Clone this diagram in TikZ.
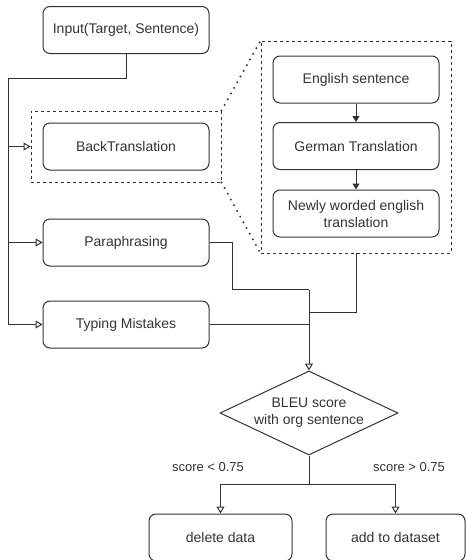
\documentclass[tikz,border=0pt]{standalone}
\usepackage{fontspec}
\setmainfont{Liberation Sans}
\usetikzlibrary{arrows.meta,shapes.geometric}
\definecolor{trazo}{HTML}{333333}
\definecolor{letra}{HTML}{333333}
\begin{document}
\begin{tikzpicture}[x=1pt,y=-1pt,
  caja/.style={draw=trazo, line width=1pt, rounded corners=7pt, minimum width=166pt, minimum height=47pt, text=letra, font=\fontsize{14}{17}\selectfont, align=center, inner sep=2pt},
  marco/.style={draw=trazo, line width=0.9pt, dash pattern=on 3pt off 3pt, minimum width=190pt, inner sep=0pt},
  linea/.style={draw=trazo, line width=1pt},
  flecha/.style={linea, -{Triangle[open, length=7pt, width=8pt]}},
  flechanegra/.style={linea, -{Triangle[length=6pt, width=7pt]}},
  puntos/.style={draw=trazo, line width=2.2pt, dash pattern=on 0pt off 6.5pt, line cap=round},
  etiqueta/.style={text=letra, font=\fontsize{13}{15}\selectfont}]
\useasboundingbox (0,0) rectangle (466,560);
% Marcos discontinuos
\node[marco, minimum height=71pt] (sbox) at (126,146.5) {}; % alrededor de BackTranslation
\node[marco, minimum height=212pt] (bbox) at (356,147) {}; % detalle de la traduccion
% Cajas de la izquierda
\node[caja] (inp) at (126,30) {Input(Target, Sentence)};
\node[caja] (bt) at (126,146.5) {BackTranslation};
\node[caja] (para) at (126,242.5) {Paraphrasing};
\node[caja] (typo) at (126,324.5) {Typing Mistakes};
% Cajas del detalle
\node[caja] (eng) at (356,79.5) {English sentence};
\node[caja] (ger) at (356,146) {German Translation};
\node[caja] (newl) at (356,213.5) {Newly worded english\\translation};
% Decision BLEU
\node[draw=trazo, line width=1pt, shape=diamond, aspect=2.12, minimum width=178pt, minimum height=84pt, inner sep=-3pt, text=letra, font=\fontsize{14}{17}\selectfont, align=center] (bleu) at (309,413) {BLEU score\\with org sentence};
% Resultados
\node[caja, minimum width=143pt] (del) at (220.5,537.5) {delete data};
\node[caja, minimum width=139pt] (add) at (395.5,537.5) {add to dataset};
% Etiquetas de las ramas
\node[etiqueta] (lmenor) at (208,467) {score < 0.75};
\node[etiqueta] (lmayor) at (409,467) {score > 0.75};
% Lineas punteadas (zoom)
\draw[puntos] (sbox.north east) -- (bbox.north west);
\draw[puntos] (sbox.south east) -- (bbox.south west);
% Reparto desde la entrada
\coordinate (codo) at (8,78);
\draw[flecha] (inp.south) |- (codo) |- (typo.west);
\draw[flecha] (codo |- sbox.west) -- (sbox.west);
\draw[flecha] (codo |- para.west) -- (para.west);
% Pasos de la traduccion
\draw[flechanegra] (eng.south) -- (ger.north);
\draw[flechanegra] (ger.south) -- (newl.north);
% Union hacia BLEU
\coordinate (junta) at (309,289.5);
\draw[linea] (para.east) -| (232,289.5) -- (junta);
\draw[linea] (bbox.south) |- (309,312);
\draw[linea] (typo.east) -- (typo.east -| junta);
\draw[flecha] (junta) -- (bleu.north);
% Ramas de salida
\coordinate (rama) at (309,484);
\draw[linea] (bleu.south) -- (rama);
\draw[flecha] (rama) -| (del.north);
\draw[flecha] (rama) -| (add.north);
\end{tikzpicture}
\end{document}
